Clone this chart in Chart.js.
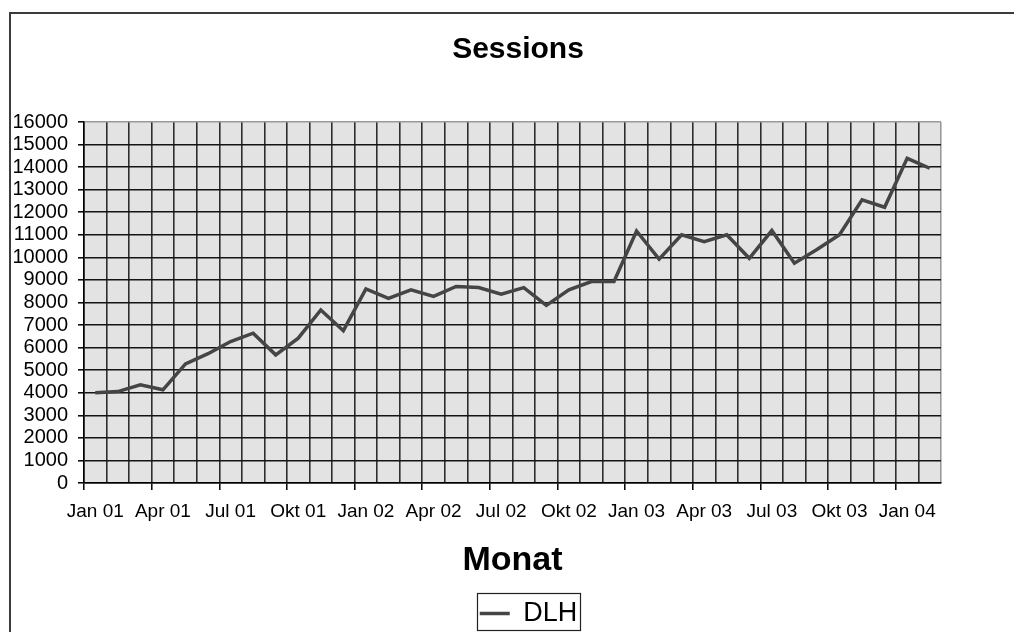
<!DOCTYPE html>
<html>
<head>
<meta charset="utf-8">
<script src="https://cdn.jsdelivr.net/npm/chart.js@4/dist/chart.umd.min.js"></script>
<style>
html,body{margin:0;padding:0;overflow:hidden;background:#fff;width:1014px;height:632px}
canvas{display:block}
</style>
</head>
<body>
<canvas id="c" width="1026" height="637"></canvas>
<script>
// ---- data ----
const categories = [
  'Jan 01','Feb 01','Mär 01','Apr 01','Mai 01','Jun 01','Jul 01','Aug 01','Sep 01','Okt 01','Nov 01','Dez 01',
  'Jan 02','Feb 02','Mär 02','Apr 02','Mai 02','Jun 02','Jul 02','Aug 02','Sep 02','Okt 02','Nov 02','Dez 02',
  'Jan 03','Feb 03','Mär 03','Apr 03','Mai 03','Jun 03','Jul 03','Aug 03','Sep 03','Okt 03','Nov 03','Dez 03',
  'Jan 04','Feb 04'
];
const sessions = [
  4000, 4050, 4350, 4130, 5280, 5730, 6270, 6640, 5680, 6420, 7670, 6750,
  8600, 8180, 8560, 8270, 8710, 8660, 8370, 8660, 7870, 8560, 8930, 8930,
  11170, 9920, 11000, 10700, 11000, 9960, 11190, 9740, 10350, 11000, 12550, 12220,
  14390, 13950
];
const yMin = 0;
const yMax = 16000;
const yStep = 1000;
const labelEvery = 3;
const chartTitle = 'Sessions';
const xAxisTitle = 'Monat';
const seriesName = 'DLH';

const FONT = "'Liberation Sans', Arial, Helvetica, sans-serif";

const framePlugin = {
  id: 'framePlugin',
  afterLayout(chart) {
    const lg = chart.legend;
    if (lg) { lg.left += 10.5; lg.right += 10.5; }
  },
  beforeDraw(chart) {
    const ctx = chart.ctx;
    const a = chart.chartArea;
    ctx.save();
    ctx.fillStyle = '#ffffff';
    ctx.fillRect(0, 0, chart.width, chart.height);
    ctx.strokeStyle = '#3c3c3c';
    ctx.lineWidth = 2;
    ctx.strokeRect(10, 13, chart.width, chart.height);
    ctx.fillStyle = '#e3e3e3';
    ctx.fillRect(a.left, a.top, a.right - a.left, a.bottom - a.top);
    ctx.restore();
  },
  afterDraw(chart) {
    const lg = chart.legend;
    if (!lg || !lg.legendHitBoxes || !lg.legendHitBoxes.length) return;
    const h = lg.legendHitBoxes[0];
    const ctx = chart.ctx;
    const cx = h.left + h.width / 2;
    ctx.save();
    ctx.strokeStyle = '#222';
    ctx.lineWidth = 1.2;
    ctx.strokeRect(Math.round(cx - 51.5) + 0.5, Math.round(h.top - 7) + 0.5, 103, 37);
    ctx.restore();
  }
};

new Chart(document.getElementById('c'), {
  type: 'line',
  data: {
    labels: categories,
    datasets: [{
      label: seriesName,
      data: sessions,
      borderColor: '#454545',
      backgroundColor: '#454545',
      borderWidth: 3.5,
      pointRadius: 0,
      pointHoverRadius: 0,
      tension: 0,
      fill: false
    }]
  },
  options: {
    responsive: false,
    animation: false,
    devicePixelRatio: 1,
    layout: { padding: { left: 10, right: 0, top: 0, bottom: 0 } },
    plugins: {
      tooltip: { enabled: false },
      title: {
        display: true,
        text: chartTitle,
        color: '#000',
        font: { family: FONT, size: 30, weight: 'bold' },
        padding: { top: 32, bottom: 54 }
      },
      legend: {
        display: true,
        position: 'bottom',
        labels: {
          color: '#000',
          font: { family: FONT, size: 27 },
          usePointStyle: true,
          pointStyle: 'line',
          pointStyleWidth: 30,
          padding: 10
        }
      }
    },
    scales: {
      x: {
        type: 'category',
        offset: true,
        grid: {
          offset: true,
          color: (c) => (c.type === 'tick' && c.index < categories.length) ? '#2e2e2e' : '#9a9a9a',
          lineWidth: 1.6,
          tickLength: 7,
          tickColor: (c) => (c.type === 'tick' && c.index % labelEvery === 0) ? '#000' : 'rgba(0,0,0,0)',
          tickWidth: 1.5
        },
        border: { display: true, color: '#000', width: 1.5 },
        ticks: {
          autoSkip: false,
          maxRotation: 0,
          minRotation: 0,
          padding: 10,
          color: '#000',
          font: { family: FONT, size: 19 },
          callback: (v, i) => (i % labelEvery === 0 ? categories[i] : '')
        },
        title: {
          display: true,
          text: xAxisTitle,
          color: '#000',
          font: { family: FONT, size: 34, weight: 'bold' },
          padding: { top: 7.3, bottom: 9.1 }
        }
      },
      y: {
        min: yMin,
        max: yMax,
        ticks: {
          stepSize: yStep,
          autoSkip: false,
          padding: 10,
          color: '#000',
          font: { family: FONT, size: 20, lineHeight: 1 },
          callback: (v) => String(v)
        },
        grid: {
          color: (c) => (c.tick && c.tick.value === yMax) ? '#9a9a9a' : '#141414',
          lineWidth: 1.6,
          tickLength: 6,
          tickColor: '#000',
          tickWidth: 1.5
        },
        border: { display: true, color: '#000', width: 1.5 },
        afterFit(s) { s.width = 74; }
      },
      y2: {
        position: 'right',
        display: true,
        min: 0,
        max: 1,
        grid: { display: false, drawTicks: false },
        ticks: { display: false },
        border: { display: false },
        afterFit(s) { s.width = 85; }
      }
    }
  },
  plugins: [framePlugin]
});
</script>
</body>
</html>
